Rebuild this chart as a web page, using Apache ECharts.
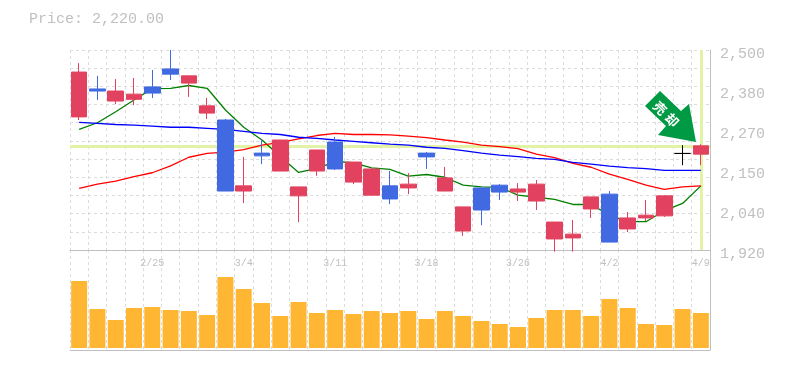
<!DOCTYPE html>
<html>
<head>
<meta charset="utf-8">
<title>Price chart</title>
<script src="https://cdn.jsdelivr.net/npm/echarts@6/dist/echarts.min.js"></script>
<style>
  html, body { margin: 0; padding: 0; background: #fff; }
  #eChart { width: 785px; height: 370px; }
</style>
</head>
<body>
<div id="eChart"></div>
<script>
const dates = ["2/19", "2/20", "2/21", "2/22", "2/25", "2/26", "2/27", "2/28", "3/1", "3/4", "3/5", "3/6", "3/7", "3/8", "3/11", "3/12", "3/13", "3/14", "3/15", "3/18", "3/19", "3/20", "3/22", "3/25", "3/26", "3/27", "3/28", "3/29", "4/1", "4/2", "4/3", "4/4", "4/5", "4/8", "4/9"];
const shownDates = ["2/25", "3/4", "3/11", "3/18", "3/26", "4/2", "4/9"];

const opens = [2306, 2387, 2352, 2357, 2393, 2445, 2404, 2317, 2297, 2091, 2201, 2149, 2077, 2149, 2233, 2117, 2079, 2106, 2100, 2201, 2091, 1975, 2100, 2108, 2088, 2062, 1952, 1955, 2039, 2082, 1981, 2013, 2019, 2200, 2198];
const closes = [2436, 2381, 2381, 2372, 2375, 2430, 2425, 2338, 2091, 2106, 2193, 2239, 2103, 2210, 2155, 2175, 2155, 2068, 2111, 2190, 2129, 2045, 2036, 2088, 2097, 2111, 2001, 1966, 2074, 1943, 2013, 2021, 2077, 2200, 2222];
const lows = [2297, 2355, 2343, 2340, 2361, 2413, 2364, 2300, 2091, 2056, 2169, 2149, 2001, 2135, 2152, 2111, 2079, 2053, 2082, 2155, 2091, 1961, 1992, 2065, 2062, 2036, 1915, 1915, 2013, 1943, 1972, 2004, 2016, 2166, 2166];
const highs = [2462, 2425, 2416, 2419, 2442, 2500, 2425, 2361, 2300, 2190, 2242, 2239, 2103, 2210, 2248, 2175, 2161, 2149, 2143, 2204, 2161, 2045, 2100, 2111, 2114, 2123, 2001, 2007, 2074, 2091, 2030, 2065, 2079, 2224, 2227];

const ma5 = [2270, 2289, 2321, 2355, 2388, 2389, 2397, 2389, 2326, 2276, 2239, 2191, 2145, 2157, 2176, 2173, 2158, 2154, 2134, 2139, 2131, 2108, 2103, 2102, 2079, 2073, 2067, 2052, 2052, 2021, 2002, 2002, 2034, 2055, 2106];
const ma25 = [2099, 2111, 2120, 2133, 2144, 2164, 2189, 2200, 2204, 2211, 2224, 2232, 2242, 2252, 2258, 2255, 2255, 2254, 2250, 2246, 2239, 2233, 2224, 2220, 2214, 2198, 2188, 2171, 2160, 2140, 2125, 2108, 2096, 2103, 2106];
const ma75 = [2290, 2287, 2284, 2282, 2279, 2276, 2276, 2273, 2270, 2264, 2258, 2255, 2247, 2244, 2239, 2235, 2231, 2227, 2224, 2218, 2215, 2208, 2201, 2195, 2191, 2186, 2183, 2174, 2169, 2163, 2159, 2156, 2151, 2151, 2151];

const volumes = [67000, 39000, 28000, 40000, 41000, 38000, 37000, 33000, 71000, 59000, 45000, 32000, 46000, 35000, 38000, 34000, 37000, 35000, 37000, 29000, 37000, 32000, 27000, 24000, 21000, 30000, 38000, 38000, 32000, 49000, 40000, 24000, 23000, 39000, 35000];

const lastPrice = 2220;
const priceMin = 1920;
const priceMax = 2500;
const priceStep = 116;

const GREY = "#c0c0c0";
const GRID = "#dcdcdc";
const RED = "#e2425f";
const BLUE = "#4169e1";
const PALE = "#e2f3a6";
const MONO = "'Liberation Mono', monospace";

const candles = dates.map((d, i) => {
  const value = [opens[i], closes[i], lows[i], highs[i]];
  // open == close is drawn as a black cross
  if (opens[i] === closes[i]) {
    return { value, itemStyle: { color: "#000", color0: "#000", borderColor: "#000", borderColor0: "#000", borderColorDoji: "#000" } };
  }
  return value;
});

const lineSeries = (name, data, color) => ({
  name,
  type: "line",
  data,
  symbol: "none",
  z: 3,
  silent: true,
  lineStyle: { color, width: 1.3 },
});

const categoryAxis = (gridIndex, showLabels) => ({
  type: "category",
  gridIndex,
  data: dates,
  axisTick: { show: false },
  axisLine: { onZero: false, lineStyle: { color: GREY, width: 1 } },
  splitLine: {
    show: true,
    interval: 0,
    lineStyle: { color: GRID, type: [3, 3], width: 1 },
  },
  axisLabel: {
    show: showLabels,
    interval: (i, v) => shownDates.includes(v),
    color: GREY,
    fontFamily: MONO,
    fontSize: 10,
    margin: 8,
  },
});

const option = {
  animation: false,
  backgroundColor: "#fff",
  title: {
    text: "Price: 2,220.00",
    left: 24,
    top: 7,
    textStyle: { color: GREY, fontFamily: MONO, fontSize: 15, fontWeight: "normal" },
  },
  grid: [
    { left: 70, right: 75, top: 50, height: 200 },
    { left: 70, right: 75, top: 250, height: 100 },
  ],
  xAxis: [categoryAxis(0, true), categoryAxis(1, false)],
  yAxis: [
    {
      type: "value",
      gridIndex: 0,
      position: "right",
      min: priceMin,
      max: priceMax,
      interval: priceStep,
      axisTick: { show: false },
      axisLine: { show: true, lineStyle: { color: GREY, width: 1 } },
      splitLine: { show: false },
      axisLabel: {
        color: GREY,
        fontFamily: MONO,
        fontSize: 15,
        margin: 10,
        verticalAlign: "top",
        lineHeight: 8,
        // 2,036 -> 2,040: the labels are rounded to tens
        formatter: (v) => (Math.round(v / 10) * 10).toLocaleString("en-US"),
      },
    },
    {
      // only there for the dashed rows, which do not line up with the labels
      type: "value",
      gridIndex: 0,
      position: "left",
      min: 0,
      max: 11,
      interval: 1,
      axisTick: { show: false },
      axisLine: { show: false },
      axisLabel: { show: false },
      splitLine: { show: true, lineStyle: { color: GRID, type: [3, 3], width: 1 } },
    },
    {
      type: "value",
      gridIndex: 1,
      position: "right",
      min: -2000,
      max: 98000,
      axisTick: { show: false },
      axisLine: { show: true, lineStyle: { color: GREY, width: 1 } },
      axisLabel: { show: false },
      splitLine: { show: false },
    },
  ],
  series: [
    {
      name: "last",
      type: "line",
      data: [],
      z: 2,
      silent: true,
      markLine: {
        silent: true,
        z: 2,
        symbol: "none",
        label: { show: false },
        lineStyle: { color: PALE, width: 3, type: "solid" },
        data: [{ yAxis: lastPrice }, { xAxis: dates[dates.length - 1] }],
      },
    },
    lineSeries("MA5", ma5, "#008000"),
    lineSeries("MA25", ma25, "#ff0000"),
    lineSeries("MA75", ma75, "#0000ff"),
    {
      name: "Price",
      type: "candlestick",
      data: candles,
      z: 4,
      barWidth: 16,
      silent: true,
      itemStyle: {
        color: RED,
        color0: BLUE,
        borderColor: RED,
        borderColor0: BLUE,
        borderWidth: 1,
      },
    },
    {
      name: "Volume",
      type: "bar",
      xAxisIndex: 1,
      yAxisIndex: 2,
      data: volumes,
      barWidth: 16,
      silent: true,
      itemStyle: { color: "#ffb733" },
    },
  ],
  graphic: [
    {
      type: "polygon",
      z: 10,
      shape: {
        points: [[696, 142], [689, 104], [681, 111], [660, 91], [645, 106], [666, 126], [658, 135]],
      },
      style: { fill: "#009944" },
    },
    {
      type: "text",
      z: 11,
      x: 660,
      y: 108,
      rotation: -Math.PI / 4,
      style: { text: "売", fill: "#fff", font: "bold 13px 'Noto Sans CJK JP'", align: "center", verticalAlign: "middle" },
    },
    {
      type: "text",
      z: 11,
      x: 672,
      y: 120,
      rotation: -Math.PI / 4,
      style: { text: "却", fill: "#fff", font: "bold 13px 'Noto Sans CJK JP'", align: "center", verticalAlign: "middle" },
    },
  ],
};

const myChart = echarts.init(document.getElementById("eChart"), null, { renderer: "canvas" });
myChart.setOption(option);
</script>
</body>
</html>
